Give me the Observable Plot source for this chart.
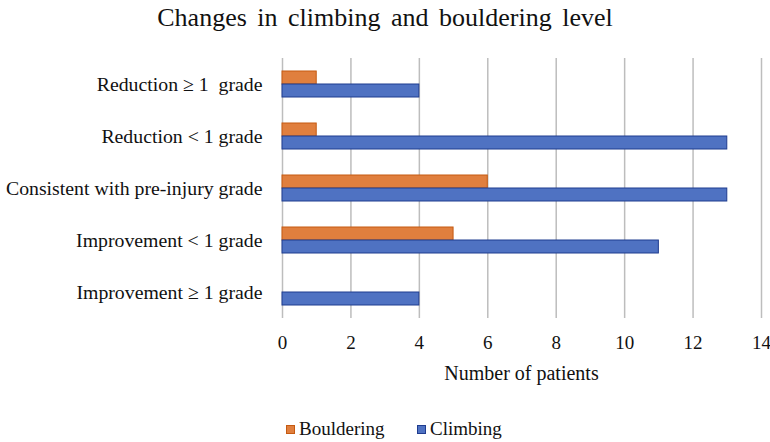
<!DOCTYPE html>
<html>
<head>
<meta charset="utf-8">
<script src="https://cdn.jsdelivr.net/npm/d3@7"></script>
<script src="https://cdn.jsdelivr.net/npm/@observablehq/plot@0.6"></script>
<style>
  body { margin: 0; background: #fff; font-family: 'Liberation Serif', 'Times New Roman', serif; color: #111; }
  #title { height: 50px; line-height: 35px; font-size: 26px; text-align: center; word-spacing: 4px; font-family: 'Liberation Serif', serif; }
  #legend { height: 42px; position: relative; font-size: 19px; font-family: 'Liberation Serif', serif; }
  .item { position: absolute; top: 18px; display: flex; align-items: center; font-family: 'Liberation Serif', serif; }
  .sw { width: 9px; height: 9px; margin-right: 4px; }
  svg text { font-family: 'Liberation Serif', serif !important; }
</style>
</head>
<body>
<div id="title">Changes in climbing and bouldering level</div>
<div id="chart"></div>
<div id="legend"></div>
<script>
const categories = ["Reduction ≥ 1  grade", "Reduction < 1 grade", "Consistent with pre-injury grade", "Improvement < 1 grade", "Improvement ≥ 1 grade"];
const series = ["Bouldering", "Climbing"];
const bouldering = [1, 1, 6, 5, 0];
const climbing = [4, 13, 13, 11, 4];
const xTicks = [0, 2, 4, 6, 8, 10, 12, 14];
const colors = ["#E07F3E", "#4F72C2"];
const strokes = ["#C55A11", "#1F3C8F"];

const rows = [];
categories.forEach((c, i) => {
  rows.push({category: c, series: "Bouldering", value: bouldering[i]});
  rows.push({category: c, series: "Climbing", value: climbing[i]});
});
const data = rows.filter(d => d.value > 0);

const chart = Plot.plot({
  width: 770,
  height: 350,
  marginLeft: 282,
  marginRight: 9,
  marginTop: 8,
  marginBottom: 82,
  style: {fontFamily: "'Liberation Serif', serif", fontSize: "19px", color: "#111", background: "#fff"},
  x: {domain: [0, 14], label: null},
  y: {domain: series, axis: null, paddingInner: 0, paddingOuter: 1},
  fy: {domain: categories, padding: 0, label: null, axis: null},
  color: {domain: series, range: colors},
  facet: {data: data, y: "category"},
  marks: [
    Plot.ruleX(xTicks, {stroke: "#BDBDBD", strokeWidth: 1.5}),
    Plot.barX(data, {y: "series", x: "value", fill: "series",
      stroke: d => strokes[series.indexOf(d.series)], strokeWidth: 1}),
    Plot.axisX({ticks: xTicks, tickSize: 0, tickPadding: 17, fontSize: 19, label: null, facetAnchor: "bottom"}),
    Plot.axisFy({tickSize: 0, tickPadding: 20, fontSize: 19.8, label: null, anchor: "left"})
  ]
});
document.getElementById("chart").appendChild(chart);

// axis title inside the svg
const svg = d3.select(chart.tagName === "svg" ? chart : chart.querySelector("svg"));
svg.append("text")
  .attr("x", (282 + 761) / 2)
  .attr("y", 268 + 57)
  .attr("text-anchor", "middle")
  .attr("dominant-baseline", "middle")
  .attr("font-size", 20)
  .attr("fill", "#111")
  .text("Number of patients");

const legend = d3.select("#legend");
const pos = [286, 417];
series.forEach((s, i) => {
  const it = legend.append("div").attr("class", "item").style("left", pos[i] + "px");
  it.append("div").attr("class", "sw").style("background", colors[i]).style("border", "1px solid " + strokes[i]).style("box-sizing", "border-box");
  it.append("span").text(s);
});
</script>
</body>
</html>
